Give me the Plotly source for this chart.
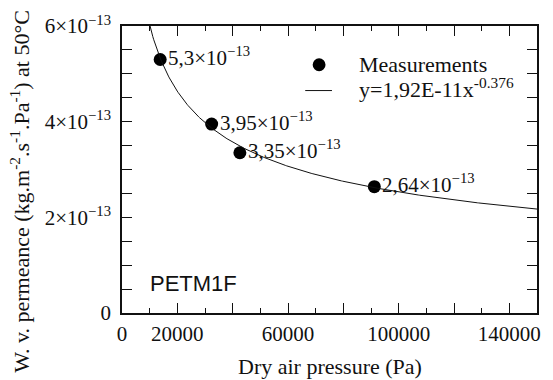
import numpy as np
import plotly.graph_objects as go

# Measured water-vapour permeance vs dry air pressure (PETM1F film, 50 °C)
pressure = [13800, 32400, 42600, 91200]          # Pa
permeance = [5.3e-13, 3.95e-13, 3.35e-13, 2.64e-13]
point_labels = ["5,3×10<sup>−13</sup>", "3,95×10<sup>−13</sup>",
                "3,35×10<sup>−13</sup>", "2,64×10<sup>−13</sup>"]

# Power-law fit y = a * x^b, as given in the legend
fit_a = 1.92e-11
fit_b = -0.376
fit_label = "y=1,92E-11x<sup>-0.376</sup>"
marker_label = "Measurements"

x_ticks = [0, 20000, 40000, 60000, 80000, 100000, 120000, 140000]
x_ticktext = ["0", "20000", "", "60000", "", "100000", "", "140000"]
y_ticks = [0, 0.5e-13, 1e-13, 1.5e-13, 2e-13, 2.5e-13, 3e-13, 3.5e-13,
           4e-13, 4.5e-13, 5e-13, 5.5e-13, 6e-13]
y_ticktext = ["0", "", "", "", "2×10<sup>−13</sup>", "", "", "",
              "4×10<sup>−13</sup>", "", "", "", "6×10<sup>−13</sup>"]

serif = "Liberation Serif"
black = "#111111"

# plot-area geometry in pixels (used to place paper-referenced items)
L, R, T, B = 122, 541, 24, 313
W, H = R - L, B - T


def px(x):
    return (x - L) / W


def py(y):
    return (B - y) / H


x_fit = np.linspace(9000, 150000, 400)
y_fit = fit_a * x_fit ** fit_b

fig = go.Figure()
fig.add_trace(go.Scatter(
    x=pressure, y=permeance, mode="markers", name=marker_label,
    marker=dict(color="black", size=13), showlegend=False,
))
fig.add_trace(go.Scatter(
    x=x_fit, y=y_fit, mode="lines", name=fit_label,
    line=dict(color=black, width=1), showlegend=False,
))

for xv, yv, txt in zip(pressure, permeance, point_labels):
    fig.add_annotation(
        x=xv, y=yv, text=txt, showarrow=False, xanchor="left", yanchor="middle",
        xshift=6, yshift=3, font=dict(family=serif, size=21, color=black),
    )

# legend box, drawn by hand so symbol and text spacing can be set freely
fig.add_shape(type="circle", xref="paper", yref="paper",
              x0=px(314.5), x1=px(327.5), y0=py(56.5), y1=py(69.5),
              fillcolor="black", line=dict(color="black", width=0))
fig.add_shape(type="line", xref="paper", yref="paper",
              x0=px(307), x1=px(334), y0=py(89), y1=py(89),
              line=dict(color=black, width=1))
fig.add_annotation(x=px(359), y=py(63), xref="paper", yref="paper",
                   text=marker_label, showarrow=False, xanchor="left", yanchor="middle",
                   font=dict(family=serif, size=22, color=black))
fig.add_annotation(x=px(359), y=py(86), xref="paper", yref="paper",
                   text=fit_label, showarrow=False, xanchor="left", yanchor="middle",
                   font=dict(family=serif, size=22, color=black))

fig.add_annotation(
    x=px(148), y=py(283), xref="paper", yref="paper",
    text="PETM1F", showarrow=False, xanchor="left", yanchor="middle",
    font=dict(family="Liberation Sans", size=22, color=black),
)
fig.add_annotation(
    x=0.5, y=py(367), xref="paper", yref="paper",
    text="Dry air pressure (Pa)", showarrow=False, xanchor="center", yanchor="middle",
    font=dict(family=serif, size=22, color=black),
)
fig.add_annotation(
    x=px(19), y=py(190), xref="paper", yref="paper",
    text="W. v. permeance (kg.m<sup>-2</sup>.s<sup>-1</sup>.Pa<sup>-1</sup>) at 50°C",
    showarrow=False, textangle=-90, xanchor="center", yanchor="middle",
    font=dict(family=serif, size=22, color=black),
)

axis_common = dict(
    showline=True, linecolor=black, linewidth=1.5, mirror="ticks",
    ticks="inside", ticklen=10, tickwidth=1.2, tickcolor=black,
    showgrid=False, zeroline=False,
    tickfont=dict(family=serif, size=21, color=black),
)

fig.update_xaxes(
    range=[0, 150000], tickmode="array", tickvals=x_ticks, ticktext=x_ticktext,
    minor=dict(dtick=10000, ticks="inside", ticklen=5, tickwidth=1.2, tickcolor=black),
    ticklabelstandoff=1, **axis_common,
)
fig.update_yaxes(
    range=[0, 6e-13], tickmode="array", tickvals=y_ticks, ticktext=y_ticktext,
    ticklabelstandoff=5, **axis_common,
)

fig.update_layout(
    width=553, height=380,
    margin=dict(l=L, r=553 - R, t=T, b=380 - B),
    plot_bgcolor="white", paper_bgcolor="white",
    font=dict(family=serif, color=black),
    showlegend=False,
)

fig.write_html("out.html")
